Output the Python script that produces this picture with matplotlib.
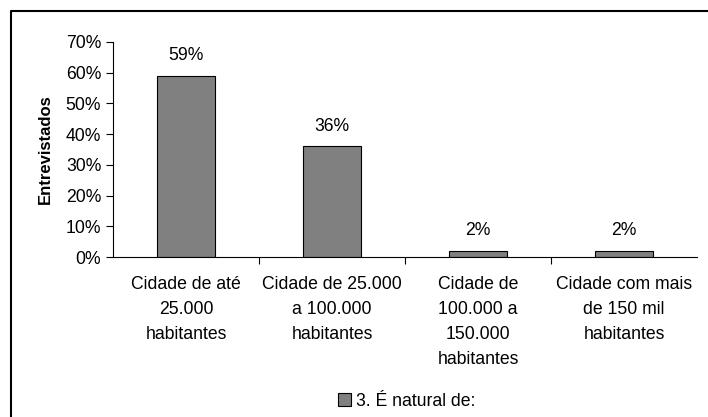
import matplotlib.pyplot as plt
from matplotlib.lines import Line2D

categories = ["Cidade de até\n25.000\nhabitantes",
              "Cidade de 25.000\na 100.000\nhabitantes",
              "Cidade de\n100.000 a\n150.000\nhabitantes",
              "Cidade com mais\nde 150 mil\nhabitantes"]
values = [59, 36, 2, 2]
series_name = "3. É natural de:"

plt.rcParams['font.family'] = ['Liberation Sans', 'DejaVu Sans']
plt.rcParams['font.size'] = 12.7

fig = plt.figure(figsize=(7.08, 4.17), dpi=100)
ax = fig.add_axes([113 / 708, 1 - 257 / 417, (697 - 113) / 708, (257 - 42) / 417])

x = list(range(len(values)))
bars = ax.bar(x, values, width=0.4, color="#808080", edgecolor="black",
              linewidth=0.8, label=series_name)
for xi, v in zip(x, values):
    ax.text(xi, v + 3.8, f"{v}%", ha="center", va="bottom")

ax.set_xlim(-0.5, len(values) - 0.5)
ax.set_ylim(0, 70)
ax.set_yticks(range(0, 71, 10))
ax.set_yticklabels([f"{t}%" for t in range(0, 71, 10)])
ax.set_xticks([i + 0.5 for i in range(len(values) - 1)])
ax.set_xticklabels([])
ax.set_xticks(x, minor=True)
ax.set_xticklabels(categories, minor=True, linespacing=1.6)
ax.tick_params(axis="x", which="minor", length=0, pad=14)
ax.tick_params(axis="x", which="major", length=5, direction="out")
ax.tick_params(axis="y", length=5, direction="out")
ax.spines["top"].set_visible(False)
ax.spines["right"].set_visible(False)
ax.set_ylabel("Entrevistados", fontweight="bold", fontsize=12, labelpad=9)

fig.legend(handles=[bars], labels=[series_name], loc="center",
           bbox_to_anchor=(407 / 708, 1 - 401 / 417), frameon=False,
           handlelength=0.7, handleheight=0.7, handletextpad=0.3)

# outer frame: only left and top edges are visible in the picture
fig.lines.append(Line2D([11 / 708, 11 / 708, 1.0], [0.0, 1 - 11 / 417, 1 - 11 / 417],
                        transform=fig.transFigure, color="black", linewidth=1.5))

fig.savefig("out.png", dpi=100)
